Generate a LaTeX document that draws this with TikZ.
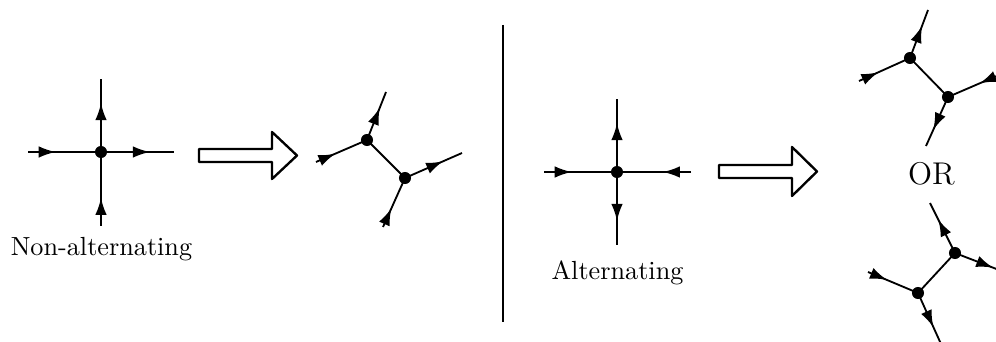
\documentclass[tikz,border=0pt]{standalone}
\usetikzlibrary{arrows.meta,decorations.markings}
\begin{document}
\begin{tikzpicture}[x=0.3817pt,y=-0.3817pt,
  line width=0.7pt,
  dot/.style={circle,fill=black,inner sep=0pt,minimum size=4.6pt},
  tipout/.style={postaction={decorate},decoration={markings,mark=at position 0.67 with {\arrow{Latex[length=6.5pt,width=4.4pt]}}}},
  tipin/.style={postaction={decorate},decoration={markings,mark=at position 0.38 with {\arrow{Latex[length=6.5pt,width=4.4pt]}}}},
  bigarrow/.style={draw,line width=0.9pt,line join=round},
  lbl/.style={anchor=base,inner sep=0pt,font=\fontsize{10}{12}\selectfont}]
\useasboundingbox (0,0) rectangle (996,342);

% left cross
\node[dot] (c1) at (101,152) {};
\coordinate (c1w) at (28,152);
\coordinate (c1e) at (174,152);
\coordinate (c1n) at (101,79);
\coordinate (c1s) at (101,226);
\draw[tipin] (c1w) -- (c1.center);
\draw[tipout] (c1.center) -- (c1e);
\draw[tipout] (c1.center) -- (c1n);
\draw[tipin] (c1s) -- (c1.center);
\node[lbl] (l1) at (101.5,256) {Non-alternating};

% big arrow 1
\draw[bigarrow] (199,149) -- (272,149) -- (272,132) -- (297,155.5) -- (272,179) -- (272,162) -- (199,162) -- cycle;

% split 1
\node[dot] (s1) at (367,140) {};
\node[dot] (s2) at (405,178) {};
\coordinate (s1n) at (386,92);
\coordinate (s1w) at (316,162);
\coordinate (s2e) at (462,153);
\coordinate (s2s) at (383,227);
\draw (s1.center) -- (s2.center);
\draw[tipout] (s1.center) -- (s1n);
\draw[tipin] (s1w) -- (s1.center);
\draw[tipout] (s2.center) -- (s2e);
\draw[tipin] (s2s) -- (s2.center);

% divider
\draw[line width=0.4pt] (503,25) -- (503,322);

% right cross
\node[dot] (c2) at (617,172) {};
\coordinate (c2w) at (544,172);
\coordinate (c2e) at (691,172);
\coordinate (c2n) at (617,99);
\coordinate (c2s) at (617,245);
\draw[tipin] (c2w) -- (c2.center);
\draw[tipin] (c2e) -- (c2.center);
\draw[tipout] (c2.center) -- (c2n);
\draw[tipout] (c2.center) -- (c2s);
\node[lbl] (l2) at (617.5,280) {Alternating};

% big arrow 2
\draw[bigarrow] (719,165) -- (792,165) -- (792,147) -- (817,171.5) -- (792,196) -- (792,178) -- (719,178) -- cycle;

% top right split
\node[dot] (a) at (910,58) {};
\node[dot] (b) at (948,97) {};
\coordinate (an) at (928,10);
\coordinate (aw) at (859,81);
\coordinate (be) at (999,75);
\coordinate (bs) at (926,146);
\draw (a.center) -- (b.center);
\draw[tipout] (a.center) -- (an);
\draw[tipin] (aw) -- (a.center);
\draw[tipin] (be) -- (b.center);
\draw[tipout] (b.center) -- (bs);

\node[lbl,font=\fontsize{12}{14}\selectfont] (or) at (931.5,185) {OR};

% bottom right split
\node[dot] (c) at (955,253) {};
\node[dot] (d) at (918,293) {};
\coordinate (cn) at (930,203);
\coordinate (ce) at (1012,275);
\coordinate (dw) at (868,272);
\coordinate (ds) at (941,344);
\draw (c.center) -- (d.center);
\draw[tipout] (c.center) -- (cn);
\draw[tipout] (c.center) -- (ce);
\draw[tipin] (dw) -- (d.center);
\draw[tipout] (d.center) -- (ds);
\end{tikzpicture}
\end{document}
